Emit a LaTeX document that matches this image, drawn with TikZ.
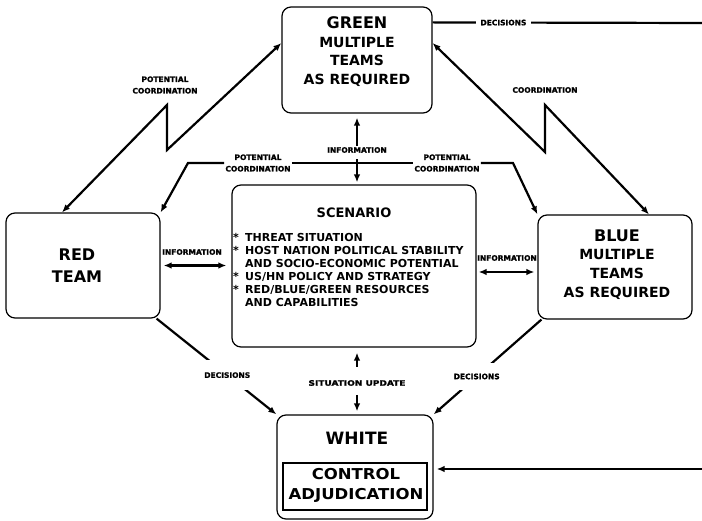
\documentclass[tikz,border=0pt]{standalone}
\usepackage{fontspec}
\setmainfont{DejaVu Sans}
\newfontfamily\lblfont{DejaVu Sans}[BoldFeatures={FakeBold=1.2}]
\usepackage{graphicx}
\usetikzlibrary{arrows.meta,calc}
\begin{document}
\begin{tikzpicture}[x=1pt,y=-1pt,
  box/.style={draw, rounded corners=9pt, line width=1.2pt, inner sep=0pt},
  >={Latex[length=8pt,width=6.5pt]},
  conn/.style={line width=2.2pt},
  lbl/.style={font=\lblfont\bfseries\fontsize{7.5}{11.5}\selectfont, inner sep=1pt, align=center},
  big/.style={font=\bfseries\fontsize{14}{18.7}\selectfont, align=center, inner sep=0pt},
]
\fill[white] (0,0) rectangle (702,521);
\useasboundingbox (0,0) rectangle (702,521);

% boxes
\node[box, minimum width=150pt, minimum height=106pt] (green) at (357,60) {};
\node[box, minimum width=154pt, minimum height=105pt] (red) at (83,265.5) {};
\node[box, minimum width=154pt, minimum height=104pt] (blue) at (615,267) {};
\node[box, minimum width=244pt, minimum height=162pt] (scen) at (354,266) {};
\node[box, minimum width=156pt, minimum height=104pt] (white) at (355,467) {};
\node[draw, line width=1.2pt, minimum width=144pt, minimum height=47pt, inner sep=0pt] (ctrl) at (355,486.5) {};

% box texts
\node[big] (greenT) at (357,51.5) {{\fontsize{16}{18.7}\selectfont GREEN}\\MULTIPLE\\TEAMS\\AS REQUIRED};
\node[big] (blueT) at (617,264.5) {{\fontsize{16}{18.7}\selectfont BLUE}\\MULTIPLE\\TEAMS\\AS REQUIRED};
\node[big, font=\bfseries\fontsize{16}{22}\selectfont] (redT) at (77,266) {RED\\TEAM};
\node[big, font=\bfseries\fontsize{17}{20}\selectfont] (whiteT) at (357,438) {WHITE};
\node[big, font=\bfseries\fontsize{15}{20}\selectfont] (ctrlT) at (356,485) {\scalebox{1.1}[1]{CONTROL}\\\scalebox{1.1}[1]{ADJUDICATION}};
\node[big, font=\bfseries\fontsize{13}{15}\selectfont] (scenT) at (354,213) {SCENARIO};
\node[anchor=north west, align=left, inner sep=0pt, font=\bfseries\fontsize{11}{13}\selectfont] (scenL) at (233,233) {%
\makebox[12pt][l]{*}THREAT SITUATION\\
\makebox[12pt][l]{*}HOST NATION POLITICAL STABILITY\\
\hspace*{12pt}AND SOCIO-ECONOMIC POTENTIAL\\
\makebox[12pt][l]{*}US/HN POLICY AND STRATEGY\\
\makebox[12pt][l]{*}RED/BLUE/GREEN RESOURCES\\
\hspace*{12pt}AND CAPABILITIES};

% Red - Green zigzag
\coordinate (rg1) at (167,150);
\coordinate (rg2) at (167,105);
\draw[conn,<->] ([yshift=17pt]green.west) -- (rg1) -- (rg2) -- ([xshift=-21pt]red.north);
\node[lbl] (pcTop) at (165,85) {POTENTIAL\\COORDINATION};

% Green - Blue zigzag
\coordinate (gb1) at (545,152);
\coordinate (gb2) at (545,105);
\draw[conn,<->] ([yshift=17pt]green.east) -- (gb1) -- (gb2) -- ([xshift=34pt]blue.north);
\node[lbl] (coord) at (545,90) {COORDINATION};

% potential coordination (middle)
\node[lbl] (pcL) at (258,163) {POTENTIAL\\COORDINATION};
\node[lbl] (pcR) at (447,163) {POTENTIAL\\COORDINATION};
\coordinate (pcLb) at (188,163);
\coordinate (pcRb) at (513,163);
\draw[conn] (pcL.east) -- (pcR.west);
\draw[conn,->] (pcL.west) -- (pcLb) -- (red.north east);
\draw[conn,->] (pcR.east) -- (pcRb) -- (blue.north west);

% information green - scenario
\node[lbl] (infoG) at (357,150) {INFORMATION};
\draw[conn,->,shorten >=4pt] (infoG.north) -- (infoG.north |- green.south);
\draw[conn,->,shorten <=5pt,shorten >=2pt] (infoG.south) -- (infoG.south |- scen.north);

% information red - scenario
\node[lbl] (infoR) at (192,252) {INFORMATION};
\draw[conn,<->,shorten <=3pt,shorten >=5pt] (red.east) -- (red.east -| scen.west);

% information scenario - blue
\node[lbl] (infoB) at (507,258) {INFORMATION};
\coordinate (bi) at ([yshift=-5pt]blue.west);
\draw[conn,<->,shorten <=2pt,shorten >=3pt] (bi -| scen.east) -- (bi);

% situation update
\node[lbl] (sitU) at (357,383) {\scalebox{1.2}[1]{SITUATION UPDATE}};
\draw[conn,->,shorten <=16pt,shorten >=5pt] (sitU.center) -- (sitU.center |- scen.south);
\draw[conn,->,shorten <=12pt,shorten >=3pt] (sitU.center) -- (sitU.center |- white.north);

% decisions red / blue
\draw[conn,->] ([xshift=-4pt]red.south east) -- node[lbl,pos=0.59,fill=white,inner ysep=12pt,inner xsep=1pt] (decR) {DECISIONS} (white.north west);
\draw[conn,->] ([xshift=4pt]blue.south west) -- node[lbl,pos=0.6,fill=white,inner ysep=11pt,inner xsep=1pt] (decB) {DECISIONS} (white.north east);

% decisions top (green)
\coordinate (decEnd) at (702,23);
\draw[conn] ([yshift=-16pt]green.north east) -- node[lbl,pos=0.263,fill=white,inner xsep=5pt] (decT) {DECISIONS} (decEnd);

% incoming arrow to control
\coordinate (ctrlIn) at (702,469);
\draw[conn,->,shorten >=3pt] (ctrlIn) -- (ctrlIn -| white.east);
\end{tikzpicture}
\end{document}
